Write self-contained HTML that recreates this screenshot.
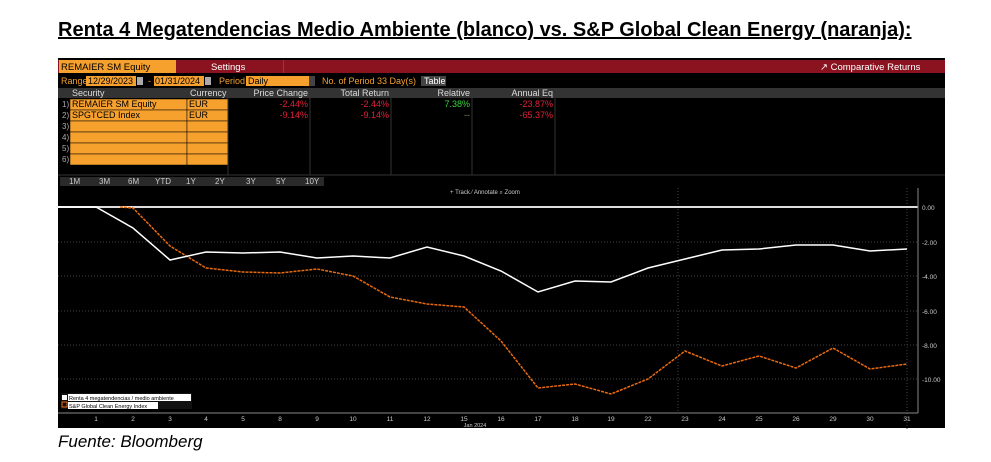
<!DOCTYPE html>
<html><head><meta charset="utf-8"><style>
body{margin:0;width:991px;height:462px;background:#fff;position:relative;overflow:hidden;font-family:"Liberation Sans",sans-serif}
.t{position:absolute;white-space:nowrap}
</style></head><body>
<div class="t" style="left:58px;top:19px;font-size:20px;font-weight:bold;text-decoration:underline;color:#000">Renta 4 Megatendencias Medio Ambiente (blanco) vs. S&amp;P Global Clean Energy (naranja):</div>
<svg style="position:absolute;left:0;top:0" width="991" height="462" font-family="Liberation Sans, sans-serif">
<rect x="58" y="58" width="887" height="370" fill="#000"/>
<rect x="58" y="60" width="887" height="13" fill="#8b1320"/>
<rect x="59" y="60" width="117" height="13" fill="#f6a02e"/>
<text x="61" y="70" font-size="9.5" fill="#000">REMAIER SM Equity</text>
<text x="211" y="70" font-size="9.5" fill="#fff">Settings</text>
<rect x="283" y="60" width="1" height="13" fill="#555"/>
<text x="820" y="70" font-size="9.5" fill="#fff">↗ Comparative Returns</text>
<text x="61" y="84" font-size="9" fill="#f6a02e">Range</text>
<rect x="86" y="76" width="50" height="10" fill="#f6a02e"/><text x="88" y="84" font-size="9" fill="#000">12/29/2023</text>
<rect x="137" y="77" width="6" height="8" fill="#aaa"/>
<text x="148" y="84" font-size="9" fill="#f6a02e">-</text>
<rect x="154" y="76" width="50" height="10" fill="#f6a02e"/><text x="155" y="84" font-size="9" fill="#000">01/31/2024</text>
<rect x="205" y="77" width="6" height="8" fill="#aaa"/>
<text x="219" y="84" font-size="9" fill="#f6a02e">Period</text>
<rect x="246" y="76" width="63" height="10" fill="#f6a02e"/><text x="248" y="84" font-size="9" fill="#000">Daily</text>
<rect x="309" y="76" width="6" height="10" fill="#444"/>
<text x="322" y="84" font-size="9" fill="#f6a02e">No. of Period 33 Day(s)</text>
<rect x="421" y="76" width="25" height="10" fill="#444"/><text x="424" y="84" font-size="9" fill="#fff">Table</text>
<rect x="58" y="88" width="887" height="10" fill="#333"/>
<g font-size="9" fill="#ddd"><text x="72" y="96">Security</text><text x="190" y="96">Currency</text>
<text x="308" y="96" text-anchor="end">Price Change</text><text x="389" y="96" text-anchor="end">Total Return</text>
<text x="470" y="96" text-anchor="end">Relative</text><text x="553" y="96" text-anchor="end">Annual Eq</text></g>
<g fill="#f6a02e" stroke="#000" stroke-width="0.5">
<rect x="70" y="99" width="117" height="11"/><rect x="187" y="99" width="41" height="11"/>
<rect x="70" y="110" width="117" height="11"/><rect x="187" y="110" width="41" height="11"/>
<rect x="70" y="121" width="117" height="11"/><rect x="187" y="121" width="41" height="11"/>
<rect x="70" y="132" width="117" height="11"/><rect x="187" y="132" width="41" height="11"/>
<rect x="70" y="143" width="117" height="11"/><rect x="187" y="143" width="41" height="11"/>
<rect x="70" y="154" width="117" height="11"/><rect x="187" y="154" width="41" height="11"/></g>
<g font-size="8" fill="#aaa"><text x="62" y="107">1)</text><text x="62" y="118">2)</text><text x="62" y="129">3)</text><text x="62" y="140">4)</text><text x="62" y="151">5)</text><text x="62" y="162">6)</text></g>
<g font-size="9" fill="#000"><text x="72" y="107">REMAIER SM Equity</text><text x="189" y="107">EUR</text><text x="72" y="118">SPGTCED Index</text><text x="189" y="118">EUR</text></g>
<g stroke="#333"><line x1="228" y1="98" x2="228" y2="175"/><line x1="310" y1="98" x2="310" y2="175"/><line x1="391" y1="98" x2="391" y2="175"/><line x1="472" y1="98" x2="472" y2="175"/><line x1="555" y1="98" x2="555" y2="175"/><line x1="58" y1="175" x2="945" y2="175"/></g>
<g font-size="9"><text x="308" y="107" text-anchor="end" fill="#e0203a">-2.44%</text><text x="389" y="107" text-anchor="end" fill="#e0203a">-2.44%</text><text x="470" y="107" text-anchor="end" fill="#3ad23a">7.38%</text><text x="553" y="107" text-anchor="end" fill="#e0203a">-23.87%</text>
<text x="308" y="118" text-anchor="end" fill="#e0203a">-9.14%</text><text x="389" y="118" text-anchor="end" fill="#e0203a">-9.14%</text><text x="470" y="118" text-anchor="end" fill="#886">--</text><text x="553" y="118" text-anchor="end" fill="#e0203a">-65.37%</text></g>
<g font-size="8" fill="#ccc">
<rect x="60" y="177" width="264" height="9" fill="#2a2a2a"/>
<text x="69" y="184">1M</text><text x="99" y="184">3M</text><text x="128" y="184">6M</text><text x="155" y="184">YTD</text><text x="186" y="184">1Y</text><text x="215" y="184">2Y</text><text x="246" y="184">3Y</text><text x="276" y="184">5Y</text><text x="305" y="184">10Y</text>
<text x="450" y="194" font-size="6">+ Track  ⁄ Annotate  ⌕ Zoom</text></g>
<g stroke="#444" stroke-dasharray="1,2"><line x1="58" y1="242" x2="918" y2="242"/><line x1="58" y1="276" x2="918" y2="276"/><line x1="58" y1="311" x2="918" y2="311"/><line x1="58" y1="345" x2="918" y2="345"/><line x1="58" y1="379" x2="918" y2="379"/><line x1="907" y1="188" x2="907" y2="430"/><line x1="678" y1="188" x2="678" y2="413"/></g>
<line x1="58" y1="207" x2="918" y2="207" stroke="#ddd" stroke-width="2"/>
<line x1="918" y1="188" x2="918" y2="413" stroke="#888"/>
<line x1="58" y1="413" x2="918" y2="413" stroke="#888"/>
<g font-size="6.5" fill="#ccc"><text x="922" y="210">0.00</text><text x="922" y="245">-2.00</text><text x="922" y="279">-4.00</text><text x="922" y="314">-6.00</text><text x="922" y="348">-8.00</text><text x="922" y="382">-10.00</text></g>
<g font-size="6.5" fill="#ccc" text-anchor="middle">
<text x="96" y="421">1</text><text x="133" y="421">2</text><text x="170" y="421">3</text><text x="206" y="421">4</text><text x="243" y="421">5</text><text x="280" y="421">8</text><text x="317" y="421">9</text><text x="353" y="421">10</text><text x="390" y="421">11</text><text x="427" y="421">12</text><text x="464" y="421">15</text><text x="501" y="421">16</text><text x="538" y="421">17</text><text x="575" y="421">18</text><text x="611" y="421">19</text><text x="648" y="421">22</text><text x="685" y="421">23</text><text x="722" y="421">24</text><text x="759" y="421">25</text><text x="796" y="421">26</text><text x="833" y="421">29</text><text x="870" y="421">30</text><text x="907" y="421">31</text>
<text x="475" y="427" font-size="5.5">Jan 2024</text></g>
<polyline fill="none" stroke="#e86a10" stroke-width="1.5" stroke-dasharray="3,1" points="120,207 133,208 170,246 206,268 243,272 280,273 317,269 353,276 390,297 427,304 464,307 501,341 538,388 575,384 611,394 648,379 685,351 722,366 759,356 796,368 833,348 870,369 907,364"/>
<polyline fill="none" stroke="#fff" stroke-width="1.5" points="58,207 96,207 133,228 170,260 206,252 243,253 280,252 317,258 353,256 390,258 427,247 464,256 501,271 538,292 575,281 611,282 648,268 685,259 722,250 759,249 796,245 833,245 870,251 907,249"/>
<rect x="61" y="393" width="131" height="16" fill="#111"/>
<rect x="62" y="395" width="5" height="5" fill="#fff"/><rect x="62" y="402" width="5" height="5" fill="none" stroke="#e86a10"/>
<rect x="68" y="394" width="123" height="7" fill="#fff"/><text x="69" y="400" font-size="5.5" fill="#000">Renta 4 megatendencias / medio ambiente</text>
<rect x="68" y="402" width="90" height="7" fill="#fff"/><text x="69" y="408" font-size="5.5" fill="#000">S&amp;P Global Clean Energy Index</text>
</svg>
<div class="t" style="left:58px;top:432px;font-size:17px;font-style:italic;color:#000">Fuente: Bloomberg</div>
</body></html>
